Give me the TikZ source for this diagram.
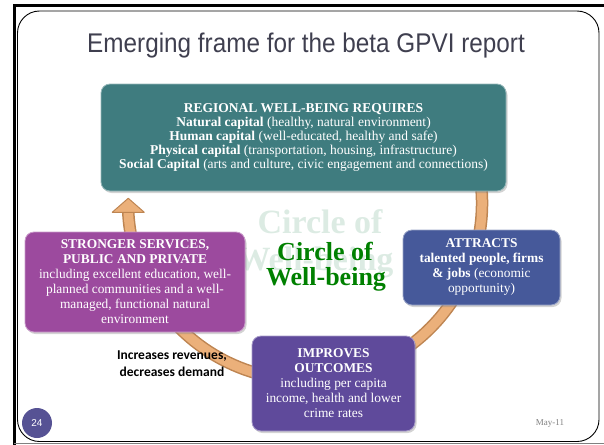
\documentclass[tikz,border=0pt]{standalone}
\usepackage{fontspec}
\setmainfont{Liberation Serif}
\newfontfamily\titlefont[FakeStretch=0.9]{Liberation Sans}
\newfontfamily\plainsans{Liberation Sans}
\newfontfamily\notefont{Carlito}
\usetikzlibrary{positioning,shadows,calc}
\definecolor{tealbox}{HTML}{3F7C7F}
\definecolor{servicebox}{HTML}{9C4A9E}
\definecolor{attractbox}{HTML}{46599A}
\definecolor{outcomebox}{HTML}{5F4A9B}
\definecolor{arrowtan}{HTML}{EBB07A}
\definecolor{arrowrim}{HTML}{BE8552}
\definecolor{mint}{HTML}{DCEBE3}
\definecolor{wellgreen}{HTML}{008000}
\definecolor{titlegray}{HTML}{3F3F4F}
\definecolor{pagedot}{HTML}{565294}
\begin{document}
\begin{tikzpicture}[x=1pt,y=-1pt,
box/.style={rounded corners=9pt,align=center,text=white,inner sep=0pt,draw=white!45!#1,fill=#1,line width=.8pt,drop shadow={shadow xshift=1.5pt,shadow yshift=-2pt,opacity=.35}},
boxtext/.style={font=\fontsize{13.4}{15}\selectfont},
shaft/.style={line width=12.5pt,draw=arrowrim},
shaftfill/.style={line width=9.5pt,draw=arrowtan}]
\useasboundingbox (0,0) rectangle (604,444);
\draw[line width=2.5pt] (610,5.5) -- (14.5,5.5) -- (14.5,446);
\draw[gray,line width=.8pt] (14,443.5) -- (610,443.5);
\draw[line width=.9pt,rounded corners=22pt] (17.5,11) rectangle (599,441.5);
\node[font=\titlefont\fontsize{27}{30}\selectfont,text=titlegray] (title) at (306,46) {Emerging frame for the beta GPVI report};
\node[font=\bfseries\fontsize{34}{37}\selectfont,text=mint,anchor=base] (ghostcircle) at (320,233) {Circle of};
\node[font=\bfseries\fontsize{34}{37}\selectfont,text=mint,anchor=base] (ghostwell) at (315,270) {Well-being};
\coordinate (hub) at (305,203);
\draw[shaft] ([shift={(-10:177)}]hub) arc[start angle=-10,end angle=177,radius=177];
\draw[shaftfill] ([shift={(-10:177)}]hub) arc[start angle=-10,end angle=177,radius=177];
\coordinate (headbase) at ([shift={(177:177)}]hub);
\filldraw[fill=arrowtan,draw=arrowrim,line width=1pt,line join=round] ([xshift=-16pt]headbase) -- ([yshift=14pt]headbase) -- ([xshift=16pt]headbase) -- cycle;
\node[box=tealbox,minimum width=405pt,minimum height=107pt,font=\fontsize{13.5}{14}\selectfont] (regional) at (303.5,137.5) {\textbf{REGIONAL WELL-BEING REQUIRES}\\\textbf{Natural capital} (healthy, natural environment)\\\textbf{Human capital} (well-educated, healthy and safe)\\\textbf{Physical capital} (transportation, housing, infrastructure)\\\textbf{Social Capital} (arts and culture, civic engagement and connections)};
\node[box=servicebox,boxtext,minimum width=220pt,minimum height=100pt] (services) at (135,282) {\textbf{STRONGER SERVICES,}\\\textbf{PUBLIC AND PRIVATE}\\including excellent education, well-\\planned communities and a well-\\managed, functional natural\\environment};
\node[box=attractbox,boxtext,minimum width=157pt,minimum height=75pt] (attracts) at (481.5,267.5) {\textbf{ATTRACTS}\\\textbf{talented people, firms}\\\textbf{\& jobs} (economic\\opportunity)};
\node[box=outcomebox,boxtext,minimum width=163pt,minimum height=95pt] (outcomes) at (333.5,383.5) {\textbf{IMPROVES}\\\textbf{OUTCOMES}\\including per capita\\income, health and lower\\crime rates};
\node[font=\bfseries\fontsize{26}{25}\selectfont,text=wellgreen,anchor=base] (circleof) at (325,260) {Circle of};
\node[font=\bfseries\fontsize{26}{25}\selectfont,text=wellgreen,anchor=base] (wellbeing) at (326,285) {Well-being};
\node[font=\notefont\bfseries\fontsize{13.5}{17}\selectfont,align=center] (note) at (172,364) {Increases revenues,\\decreases demand};
\node[circle,fill=pagedot,minimum size=30pt,inner sep=0pt,text=white,font=\plainsans\fontsize{10}{12}\selectfont] (page) at (37,423) {24};
\node[text=gray,font=\fontsize{9}{11}\selectfont] (date) at (550,423) {May-11};
\end{tikzpicture}
\end{document}
